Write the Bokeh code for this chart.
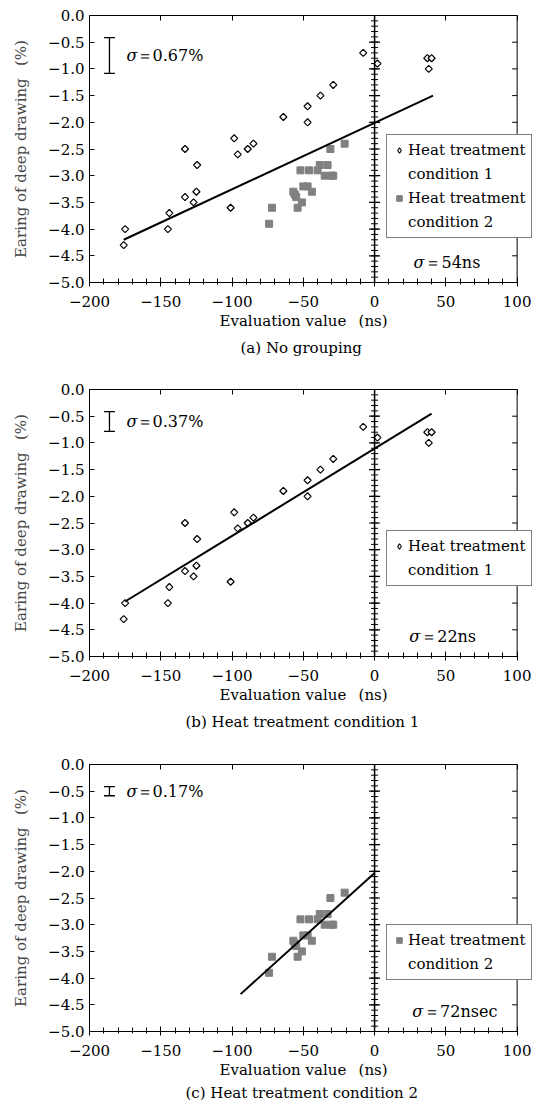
import numpy as np
from bokeh.plotting import figure
from bokeh.models import (Range1d, FixedTicker, LinearAxis, Span, Title, Legend,
                          LegendItem, CustomJSTickFormatter, ColumnDataSource)
from bokeh.layouts import column
from bokeh.core.properties import value
from bokeh.embed import file_html
from bokeh.resources import INLINE

FONT = "DejaVu Serif"

# Heat treatment condition 1 (open diamonds)
c1_x = [-175, -176, -145, -144, -133, -133, -127, -125, -124.5, -101, -98.5, -96,
        -89, -85, -64, -47, -47, -38, -29, -8, 2, 37, 40, 38]
c1_y = [-4.0, -4.3, -4.0, -3.7, -3.4, -2.5, -3.5, -3.3, -2.8, -3.6, -2.3, -2.6,
        -2.5, -2.4, -1.9, -1.7, -2.0, -1.5, -1.3, -0.7, -0.9, -0.8, -0.8, -1.0]

# Heat treatment condition 2 (grey squares)
c2_x = [-74, -72, -57, -56, -55, -54, -51, -52, -50, -47, -46, -44, -40, -38.5,
        -35, -33, -31, -30, -29, -21]
c2_y = [-3.9, -3.6, -3.3, -3.35, -3.4, -3.6, -3.5, -2.9, -3.2, -3.2, -2.9, -3.3,
        -2.9, -2.8, -3.0, -2.8, -2.5, -3.0, -3.0, -2.4]

# regression lines per panel
fit_a_x = [-176, 41]
fit_a_y = [-4.2, -1.5]
fit_b_x = [-175, 40]
fit_b_y = [-3.97, -0.45]
fit_c_x = [-94, 0]
fit_c_y = [-4.3, -2.03]

sigma_pct = [0.67, 0.37, 0.17]
sigma_pct_labels = ["\uff1d0.67%", "\uff1d0.37%", "\uff1d0.17%"]
sigma_ns_labels = ["\uff1d54ns", "\uff1d22ns", "\uff1d72nsec"]
captions = ["(a) No grouping", "(b) Heat treatment condition 1",
            "(c) Heat treatment condition 2"]
caption_offsets = [151, 96, 96]
caption_standoffs = [13, 13, 5]

x_major = [-200, -150, -100, -50, 0, 50, 100]
x_minor = [-200 + 10 * i for i in range(31)]
y_major = [0.0, -0.5, -1.0, -1.5, -2.0, -2.5, -3.0, -3.5, -4.0, -4.5, -5.0]
zero_minor = [round(-0.1 * i, 1) for i in range(51)]
zero_major = y_major

X_LABEL = "Evaluation value\u2002 (ns)"
X_LABEL_OFFSET = 130
Y_LABEL = "Earing of deep drawing\u2002 (%)"

X_END = 118.5          # frame runs past x=100 so that the legend is not clipped
RIGHT_TICK = 3.5       # inward tick length of the right border (in ns)


def make_panel(k, show1, show2, fx, fy, sig_c, ns_x, legend_loc, height, bottom):
    p = figure(width=543, height=height, x_range=Range1d(-200, X_END),
               y_range=Range1d(-5, 0), output_backend="svg", toolbar_location=None,
               min_border_left=89, min_border_right=0, min_border_top=15,
               min_border_bottom=bottom)
    p.xgrid.visible = False
    p.ygrid.visible = False
    p.outline_line_color = None
    p.background_fill_color = "white"
    p.border_fill_color = "white"

    xa = p.xaxis[0]
    xa.bounds = (-200, 100)
    xa.ticker = FixedTicker(ticks=x_major, minor_ticks=x_minor)
    xa.formatter = CustomJSTickFormatter(
        code="return (tick < 0 ? '\u2212' : '') + Math.abs(tick).toFixed(0);")
    xa.major_tick_in = 5
    xa.major_tick_out = 4
    xa.minor_tick_in = 4
    xa.minor_tick_out = 2
    xa.major_label_standoff = 9
    xa.major_label_text_font = FONT
    xa.major_label_text_font_size = "15px"
    xa.major_label_text_color = "black"
    xa.axis_line_color = "black"

    ya = p.yaxis[0]
    ya.ticker = FixedTicker(ticks=y_major, minor_ticks=[])
    ya.formatter = CustomJSTickFormatter(
        code="return (tick < 0 ? '\u2212' : '') + Math.abs(tick).toFixed(1);")
    ya.major_tick_in = 5
    ya.major_tick_out = 0
    ya.minor_tick_in = 0
    ya.minor_tick_out = 0
    ya.major_label_standoff = 5
    ya.major_label_text_font = FONT
    ya.major_label_text_font_size = "15px"
    ya.major_label_text_color = "black"
    ya.axis_label = Y_LABEL
    ya.axis_label_text_font = FONT
    ya.axis_label_text_font_size = "15px"
    ya.axis_label_text_font_style = "normal"
    ya.axis_label_standoff = 15
    ya.axis_line_color = "black"

    top = LinearAxis(ticker=FixedTicker(ticks=x_major, minor_ticks=[]),
                     formatter=CustomJSTickFormatter(code="return '';"),
                     bounds=(-200, 100), major_label_standoff=0,
                     major_tick_in=5, major_tick_out=0, minor_tick_in=0,
                     minor_tick_out=0, axis_line_color="black")
    p.add_layout(top, "above")

    # right border at x = 100 with inward ticks
    p.add_layout(Span(location=100, dimension="height", line_color="black",
                      line_width=1))
    p.segment(x0=[100] * len(y_major), y0=y_major,
              x1=[100 - RIGHT_TICK] * len(y_major), y1=y_major,
              line_color="black", line_width=1)

    # zero line with ticks
    p.add_layout(Span(location=0, dimension="height", line_color="black",
                      line_width=1.5))
    p.scatter([0] * len(zero_minor), zero_minor, marker="dash", size=7,
              line_color="black", line_width=1)
    p.scatter([0] * len(zero_major), zero_major, marker="dash", size=11,
              line_color="black", line_width=1.2)

    items = []
    blank = p.scatter([], [], marker="square", fill_alpha=0, line_alpha=0)
    if show2:
        r2 = p.scatter(c2_x, c2_y, marker="square", size=7, fill_color="#808080",
                       line_color="#808080")
    if show1:
        src1 = ColumnDataSource(dict(x=c1_x, y=c1_y))
        # legend-only diamond: zero size in the plot, sized by the legend
        leg_d = p.scatter("x", "y", source=src1, marker="diamond", size=0,
                          fill_color="white", line_color="black", line_width=1.1)
        p.scatter("x", "y", source=src1, marker="square", angle=np.pi / 4, size=5,
                  fill_color="white", line_color="black", line_width=1.2)
        items += [LegendItem(label="Heat treatment", renderers=[leg_d]),
                  LegendItem(label="condition 1", renderers=[blank])]
    if show2:
        items += [LegendItem(label="Heat treatment", renderers=[r2]),
                  LegendItem(label="condition 2", renderers=[blank])]

    p.line(fx, fy, line_color="black", line_width=2)

    # sigma bar
    s = sigma_pct[k]
    bx = -186
    p.segment(x0=[bx], y0=[sig_c - s / 2], x1=[bx], y1=[sig_c + s / 2],
              line_color="black", line_width=1.3)
    p.scatter([bx, bx], [sig_c - s / 2, sig_c + s / 2], marker="dash", size=11,
              line_color="black", line_width=1.3)
    p.text(x=[-174], y=[sig_c], text=["\u03c3"], text_font=value(FONT),
           text_font_style="italic", text_font_size="16px", text_baseline="middle",
           text_align="left", text_color="black")
    p.text(x=[-174], y=[sig_c], text=[sigma_pct_labels[k]], x_offset=10,
           text_font=value(FONT), text_font_size="16px", text_baseline="middle",
           text_align="left", text_color="black")

    p.text(x=[ns_x], y=[-4.62], text=["\u03c3"], text_font=value(FONT),
           text_font_style="italic", text_font_size="16px", text_baseline="middle",
           text_align="right", text_color="black")
    p.text(x=[ns_x], y=[-4.62], text=[sigma_ns_labels[k]], x_offset=1,
           text_font=value(FONT), text_font_size="16px", text_baseline="middle",
           text_align="left", text_color="black")

    leg = Legend(items=items, location=legend_loc, margin=0, padding=5, spacing=4,
                 label_height=20, glyph_height=20, glyph_width=14, label_standoff=2,
                 label_text_font=FONT, label_text_font_size="15px",
                 label_text_color="black", border_line_color="black",
                 border_line_width=1, background_fill_color="white",
                 background_fill_alpha=1)
    p.add_layout(leg, "center")

    # x-axis label (as a title so that it centres on the -200..100 span)
    p.add_layout(Title(text=X_LABEL, align="left", offset=X_LABEL_OFFSET,
                       text_font=FONT, text_font_size="15px",
                       text_font_style="normal", text_color="black", standoff=1),
                 "below")
    p.add_layout(Title(text=captions[k], align="left", offset=caption_offsets[k],
                       text_font=FONT, text_font_size="15px",
                       text_font_style="normal", text_color="black",
                       standoff=caption_standoffs[k]),
                 "below")
    return p


pa = make_panel(0, True, True, fit_a_x, fit_a_y, -0.75, 35, (297, 44), 374, 92)
pb = make_panel(1, True, False, fit_b_x, fit_b_y, -0.6, 32, (297, 70), 375, 93)
pc = make_panel(2, False, True, fit_c_x, fit_c_y, -0.5, 34, (297, 51), 357, 75)

layout = column(pa, pb, pc, spacing=0)
open("out.html", "w").write(file_html(layout, INLINE))
